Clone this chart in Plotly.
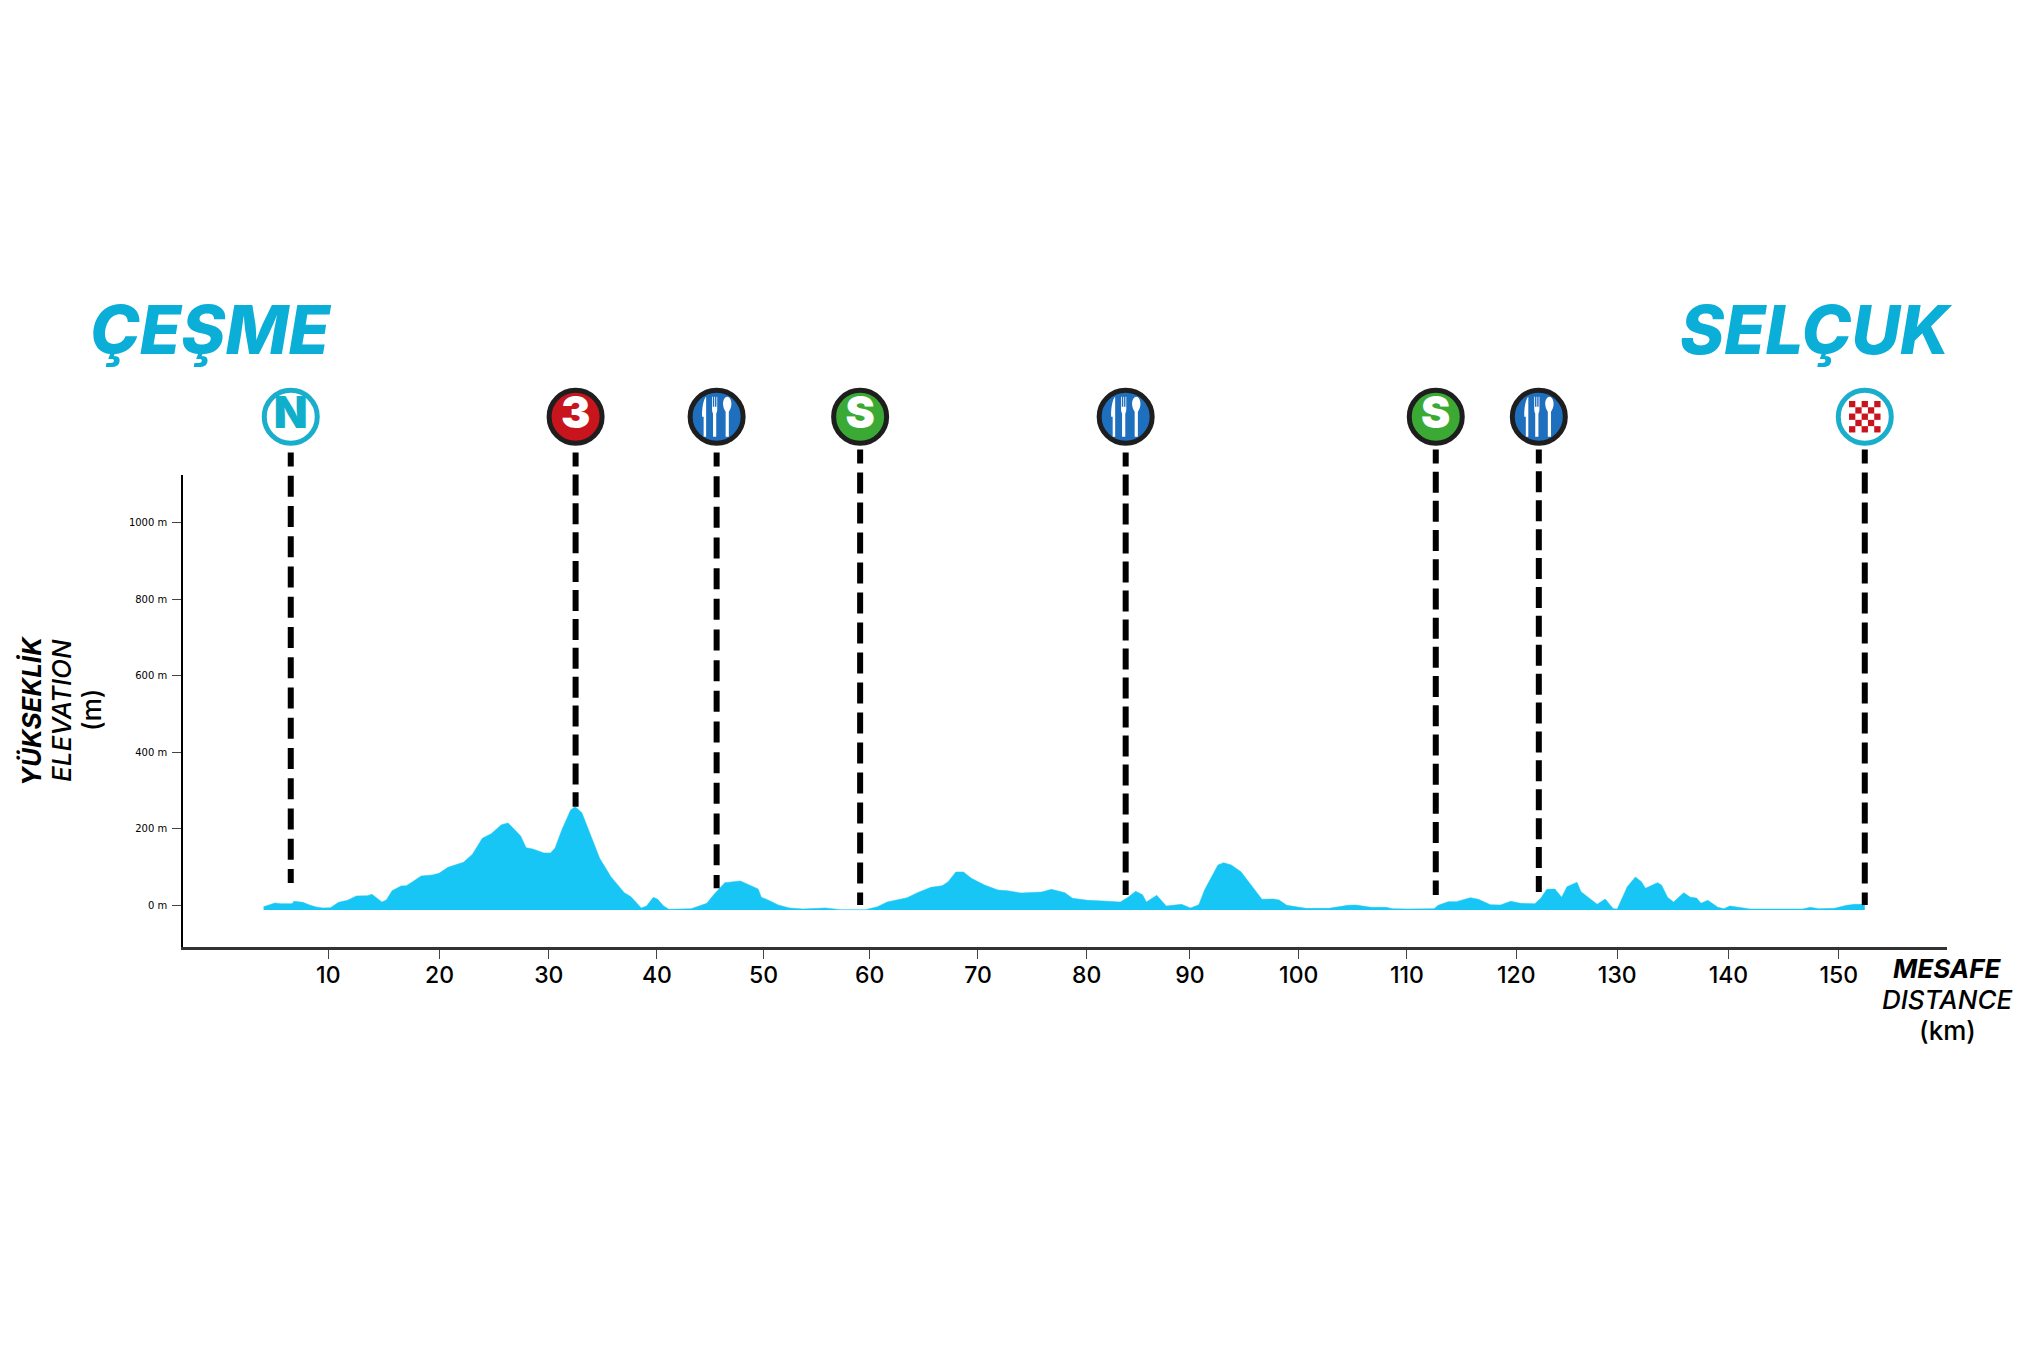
import plotly.graph_objs as go

# elevation profile (km, m)
profile_km = [
    4.0, 5.07, 5.57, 6.65, 6.81, 7.64, 8.26, 8.88, 9.5, 10.2, 10.95, 11.78, 12.6, 13.64, 14.05, 14.47,
    14.96, 15.38, 15.91, 16.74, 17.24, 17.78, 18.6, 19.64, 20.26, 21.09, 22.53, 23.36, 24.27, 25.1,
    26.05, 26.67, 27.83, 28.33, 28.95, 29.98, 30.6, 31.02, 31.64, 32.46, 32.88, 33.5, 34.33, 35.15,
    36.19, 37.43, 38.05, 39.0, 39.5, 40.12, 40.53, 41.07, 41.57, 42.6, 43.64, 45.08, 45.7, 46.74,
    48.19, 49.84, 50.13, 50.75, 51.7, 52.74, 53.98, 56.05, 57.5, 59.8, 60.9, 61.8, 62.66, 63.65,
    64.6, 65.85, 66.9, 67.45, 68.16, 68.87, 69.6, 70.82, 72.06, 72.95, 74.19, 76.14, 77.02, 78.27,
    78.97, 80.39, 81.81, 83.41, 84.12, 84.83, 85.46, 85.82, 86.78, 87.13, 87.66, 89.08, 89.9, 90.68,
    91.21, 92.45, 92.98, 93.69, 94.58, 95.29, 96.53, 97.59, 98.12, 98.83, 100.6, 102.73, 104.51,
    105.2, 106.64, 108.05, 108.6, 110.07, 112.49, 112.86, 113.8, 114.54, 115.85, 116.59, 117.71,
    118.64, 119.58, 120.51, 121.82, 122.37, 122.93, 123.68, 124.31, 124.8, 125.73, 126.1, 126.85,
    127.6, 128.34, 129.09, 129.46, 130.39, 131.14, 131.7, 132.07, 133.19, 133.56, 134.12, 134.68,
    135.62, 136.25, 136.81, 137.22, 137.85, 138.79, 139.35, 139.9, 141.0, 141.77, 146.62, 147.37,
    148.11, 149.6, 150.72, 151.47, 152.4,
]
profile_m = [
    -4.3, 5.2, 3.5, 3.5, 9.6, 7, 0, -5.2, -7.8, -7, 7, 12.2, 23.6, 24.4, 27.9, 19.2,
    7.9, 13.1, 37.5, 49.7, 50.6, 60.2, 75.8, 78.5, 82.8, 98.5, 111.6, 132.5, 174.3, 186.5,
    210, 214.4, 180.4, 149.9, 146.4, 136, 136, 149, 196.1, 248.4, 257.1, 241.4, 178.7, 122,
    74.1, 32.3, 21.8, -7.8, -2.6, 20.1, 14.8, -2.6, -11.3, -11.3, -9.6, 4.4, 26.2, 58.4,
    62.8, 41.9, 20.1, 13.1, 0, -7.8, -10.4, -7.8, -12.2, -12.2, -4.4, 7.8, 13, 19.1,
    32.2, 46.2, 50.5, 61, 86.2, 86.2, 69.7, 52.3, 39.2, 37.4, 31.3, 34, 40.9, 32.2,
    17.4, 12.2, 10.4, 7.8, 20, 35.7, 27, 7.8, 25.2, 13, -2.6, 1.7, -7.9, 0.8,
    39.2, 104.5, 110.6, 104.5, 87.1, 61, 14.8, 15.7, 13, -0.9, -8.7, -8.7, -0.9,
    0, -6.1, -6.1, -9.6, -10.5, -9.6, -0.9, 8.7, 8.7, 19.1, 14.8, 0.8,
    0, 9.6, 4.3, 3.5, 17.4, 40.9, 41.8, 20, 47.9, 59.2, 34.8, 17.4,
    1.7, 15.7, -9.6, -10.5, 47.9, 73.2, 61, 43.6, 58.4, 52.3, 20, 7.8,
    32.2, 20, 18.3, 4.3, 12.2, -6.1, -9.6, -2.6, -7.9, -10.5, -10.5, -6.1,
    -9.6, -8.7, -0.9, 1.7, 1.7,
]
profile_base = -13

# checkpoints along the stage
point_km = [6.52, 32.92, 45.99, 59.29, 83.9, 112.64, 122.19, 152.4]
point_ground_m = [57.5, 257, 44, 0, 26, 26, 34, 0]
point_top_m = [1183, 1183, 1183, 1191, 1183, 1191, 1191, 1191]
point_text = ["N", "3", "", "S", "", "S", "", ""]
food_km = [45.99, 83.9, 122.19]
finish_km = 152.4
icon_row_m = 1276.6

# dash period of each line, it differs a bit in the picture
point_period = [30.25, 28.9, 30.67, 30, 29, 29.2, 28.9, 30]
point_fill = ["white", "#C8141C", "#1F6FBF", "#3BAA35", "#1F6FBF", "#3BAA35", "#1F6FBF", "white"]
point_edge = ["#1AAECD", "#1E1E1E", "#1E1E1E", "#1E1E1E", "#1E1E1E", "#1E1E1E", "#1E1E1E", "#1AAECD"]
point_text_color = ["#0FAECB", "white", "white", "white", "white", "white", "white", "white"]

x_tick_pos = [10, 20.31, 30.44, 40.45, 50.34, 60.17, 70.21, 80.29, 89.86, 99.94, 109.97, 120.1, 129.46, 139.76, 150]
x_tick_text = ["10", "20", "30", "40", "50", "60", "70", "80", "90", "100", "110", "120", "130", "140", "150"]
y_tick_pos = [0, 200, 400, 600, 800, 1000]
y_tick_text = ["0 m", "200 m", "400 m", "600 m", "800 m", "1000 m"]

FONT = "Inter"
W, H = 2031, 1348
CYAN = "#0AAED6"

KNIFE = "M-13,-20 L-10.5,-20 L-10.5,20 C-13,18 -15,8 -14.5,0 L-13,0 Z"
FORK = ("M-4.6,20 L-3.8,20 L-3.8,10 L-2.4,10 L-2.4,20 L-1.6,20 L-1.6,10 L-0.2,10 L-0.2,20 L0.6,20 "
        "L0.6,7 C0.6,5 -0.2,4 -0.4,3 L-0.4,-20 L-3.6,-20 L-3.6,3 C-3.8,4 -4.6,5 -4.6,7 Z")
SPOON = ("M10.6,20 C13.5,20 14.8,16 14.8,13 C14.8,9 13,6.5 12.2,5 L12.2,-20 L9,-20 L9,5 "
         "C8.2,6.5 6.4,9 6.4,13 C6.4,16 7.7,20 10.6,20 Z")


def px_x(px):
    return px / W


def px_y(py):
    return 1 - py / H


def label(text, px, py, size=26, color="black", angle=0, style="normal", weight=400):
    return dict(
        text=text, x=px_x(px), y=px_y(py), textangle=angle,
        xref="paper", yref="paper", xanchor="center", yanchor="middle", showarrow=False,
        font=dict(size=size, color=color, family=FONT, style=style, weight=weight),
    )


fig = go.Figure()

# -----------------------------
# Profile
# -----------------------------
fig.add_trace(go.Scatter(
    x=[profile_km[0], profile_km[-1]],
    y=[profile_base, profile_base],
    mode="lines",
    line=dict(width=0, color="#18C6F5"),
    showlegend=False,
))
fig.add_trace(go.Scatter(
    x=profile_km,
    y=profile_m,
    mode="lines",
    line=dict(width=0.5, color="#18C6F5"),
    fill="tonexty",
    fillcolor="#18C6F5",
    showlegend=False,
))

# -----------------------------
# Dashed lines (on y2, same metres, runs up to the icons)
# -----------------------------
for km, top, ground, period in zip(point_km, point_top_m, point_ground_m, point_period):
    gap = period - 21
    pattern = f"14px,{gap:.2f}px," + f"21px,{gap:.2f}px," * 16
    fig.add_trace(go.Scatter(
        x=[km, km],
        y=[top, ground],
        yaxis="y2",
        mode="lines",
        line=dict(color="black", width=6, dash=pattern.rstrip(",")),
        showlegend=False,
    ))

# -----------------------------
# Icons row
# -----------------------------
fig.add_trace(go.Scatter(
    x=point_km,
    y=[icon_row_m] * len(point_km),
    yaxis="y2",
    mode="markers+text",
    marker=dict(size=53, color=point_fill, line=dict(color=point_edge, width=5)),
    text=point_text,
    textposition="middle center",
    textfont=dict(family=FONT, size=44, color=point_text_color, weight=900),
    showlegend=False,
))

shapes = []
for km in food_km:
    for path in [KNIFE, FORK, SPOON]:
        shapes.append(dict(
            type="path", path=path, xref="x", yref="y2",
            xsizemode="pixel", ysizemode="pixel", xanchor=km, yanchor=icon_row_m,
            fillcolor="white", line=dict(width=0), layer="above",
        ))

cell = 6.3
for row in range(5):
    for col in range(5):
        if (row + col) % 2 == 0:
            shapes.append(dict(
                type="rect", xref="x", yref="y2",
                xsizemode="pixel", ysizemode="pixel", xanchor=finish_km, yanchor=icon_row_m,
                x0=(col - 2.5) * cell, x1=(col - 1.5) * cell,
                y0=(row - 2.5) * cell, y1=(row - 1.5) * cell,
                fillcolor="#C8141C", line=dict(width=0), layer="above",
            ))

# -----------------------------
# Texts
# -----------------------------
annotations = [
    label("ÇEŞME", 211, 329, size=67, color=CYAN, style="italic", weight=800),
    label("SELÇUK", 1816, 329, size=67, color=CYAN, style="italic", weight=800),
    label("YÜKSEKLİK", 31, 711, angle=-90, style="italic", weight=700),
    label("ELEVATION", 61, 711, angle=-90, style="italic", weight=500),
    label("(m)", 91, 710, angle=-90, weight=500),
    label("MESAFE", 1947, 968, style="italic", weight=700),
    label("DISTANCE", 1947, 999, style="italic", weight=500),
    label("(km)", 1947, 1030, weight=500),
]

# -----------------------------
# Layout
# -----------------------------
fig.update_layout(
    width=W,
    height=H,
    margin=dict(l=0, r=0, t=0, b=0),
    paper_bgcolor="white",
    plot_bgcolor="rgba(0,0,0,0)",
    showlegend=False,
    shapes=shapes,
    annotations=annotations,
    xaxis=dict(
        domain=[183 / W, 1947 / W],
        range=[-3.466, 160.02],
        showgrid=False,
        zeroline=False,
        showline=True,
        linecolor="#333333",
        linewidth=2.5,
        ticks="outside",
        ticklen=9,
        tickwidth=1,
        tickcolor="#444444",
        tickvals=x_tick_pos,
        ticktext=x_tick_text,
        ticklabelstandoff=-3,
        tickfont=dict(family=FONT, size=23, color="black", weight=500),
    ),
    yaxis=dict(
        domain=[(H - 947) / H, (H - 475) / H],
        range=[-109.8, 1124.2],
        showgrid=False,
        zeroline=False,
        showline=True,
        linecolor="black",
        linewidth=1.5,
        ticks="outside",
        ticklen=9,
        tickwidth=1,
        tickcolor="#444444",
        tickvals=y_tick_pos,
        ticktext=y_tick_text,
        ticklabelstandoff=3,
        tickfont=dict(family="DejaVu Sans", size=10, color="black"),
    ),
    yaxis2=dict(
        domain=[(H - 947) / H, 1],
        range=[-109.8, 2366],
        visible=False,
        anchor="x",
    ),
)

fig.write_html("out.html", config={"displayModeBar": False}, post_script="document.body.style.margin='0';")
